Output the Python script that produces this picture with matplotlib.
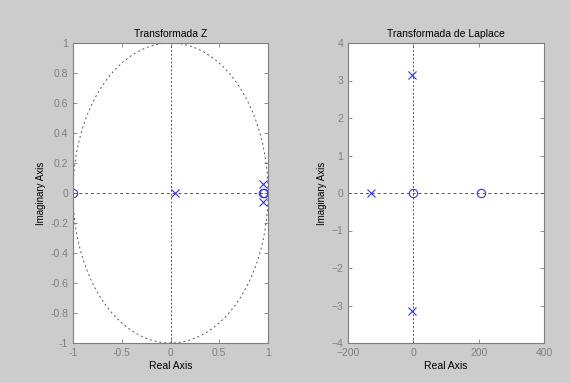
import numpy as np
import matplotlib
matplotlib.use("Agg")
import matplotlib.pyplot as plt

# Transformada Z
z_poles_re = [0.05, 0.95, 0.95]
z_poles_im = [0.0, 0.06, -0.06]
z_zeros_re = [-1.0, 0.95, 0.96]
z_zeros_im = [0.0, 0.0, 0.0]

# Transformada de Laplace
s_poles_re = [-130, -3, -3]
s_poles_im = [0.0, 3.14, -3.14]
s_zeros_re = [0, 207]
s_zeros_im = [0.0, 0.0]

bg = "#cccccc"
tick_col = "#7f7f7f"
plt.rcParams["font.family"] = ["Liberation Sans", "DejaVu Sans"]

fig = plt.figure(figsize=(5.7, 3.83), dpi=100, facecolor=bg)
W, H = 570, 383
ax1 = fig.add_axes([73 / W, 1 - 343 / H, 195 / W, 300 / H])
ax2 = fig.add_axes([348 / W, 1 - 343 / H, 196 / W, 300 / H])


def style(ax, title):
    ax.set_title(title, fontsize=7.5, pad=4)
    ax.set_xlabel("Real Axis", fontsize=7.5, labelpad=2)
    ax.set_ylabel("Imaginary Axis", fontsize=7, labelpad=3)
    ax.tick_params(direction="in", length=3, labelsize=7.5, colors=tick_col,
                   labelcolor=tick_col, top=True, right=True, width=0.6)
    for sp in ax.spines.values():
        sp.set_color(tick_col)
        sp.set_linewidth(0.8)


t = np.linspace(0, 2 * np.pi, 300)
ax1.plot(np.cos(t), np.sin(t), ls=(0, (2, 3)), color="#555555", lw=0.7)
ax1.axhline(0, ls=(0, (3, 3)), color="#555555", lw=0.7)
ax1.axvline(0, ls=(0, (2, 2)), color="#555555", lw=0.7)
ax1.plot(z_poles_re, z_poles_im, "x", color="#3333ff", ms=6, mew=0.8)
ax1.plot(z_zeros_re, z_zeros_im, "o", mfc="none", mec="#3333ff", ms=6, mew=0.8)
ax1.set_xlim(-1, 1)
ax1.set_ylim(-1, 1)
ax1.set_xticks([-1, -0.5, 0, 0.5, 1])
ax1.set_xticklabels(["-1", "-0.5", "0", "0.5", "1"])
ax1.set_yticks(np.arange(-1, 1.01, 0.2))
ax1.set_yticklabels(["-1", "-0.8", "-0.6", "-0.4", "-0.2", "0",
                     "0.2", "0.4", "0.6", "0.8", "1"])
style(ax1, "Transformada Z")

ax2.axhline(0, ls=(0, (3, 3)), color="#555555", lw=0.7)
ax2.axvline(0, ls=(0, (2, 2)), color="#555555", lw=0.7)
ax2.plot(s_poles_re, s_poles_im, "x", color="#3333ff", ms=6, mew=0.8)
ax2.plot(s_zeros_re, s_zeros_im, "o", mfc="none", mec="#3333ff", ms=6, mew=0.8)
ax2.set_xlim(-200, 400)
ax2.set_ylim(-4, 4)
ax2.set_xticks([-200, 0, 200, 400])
ax2.set_yticks(range(-4, 5))
style(ax2, "Transformada de Laplace")

fig.savefig("out.png", dpi=100, facecolor=bg)
